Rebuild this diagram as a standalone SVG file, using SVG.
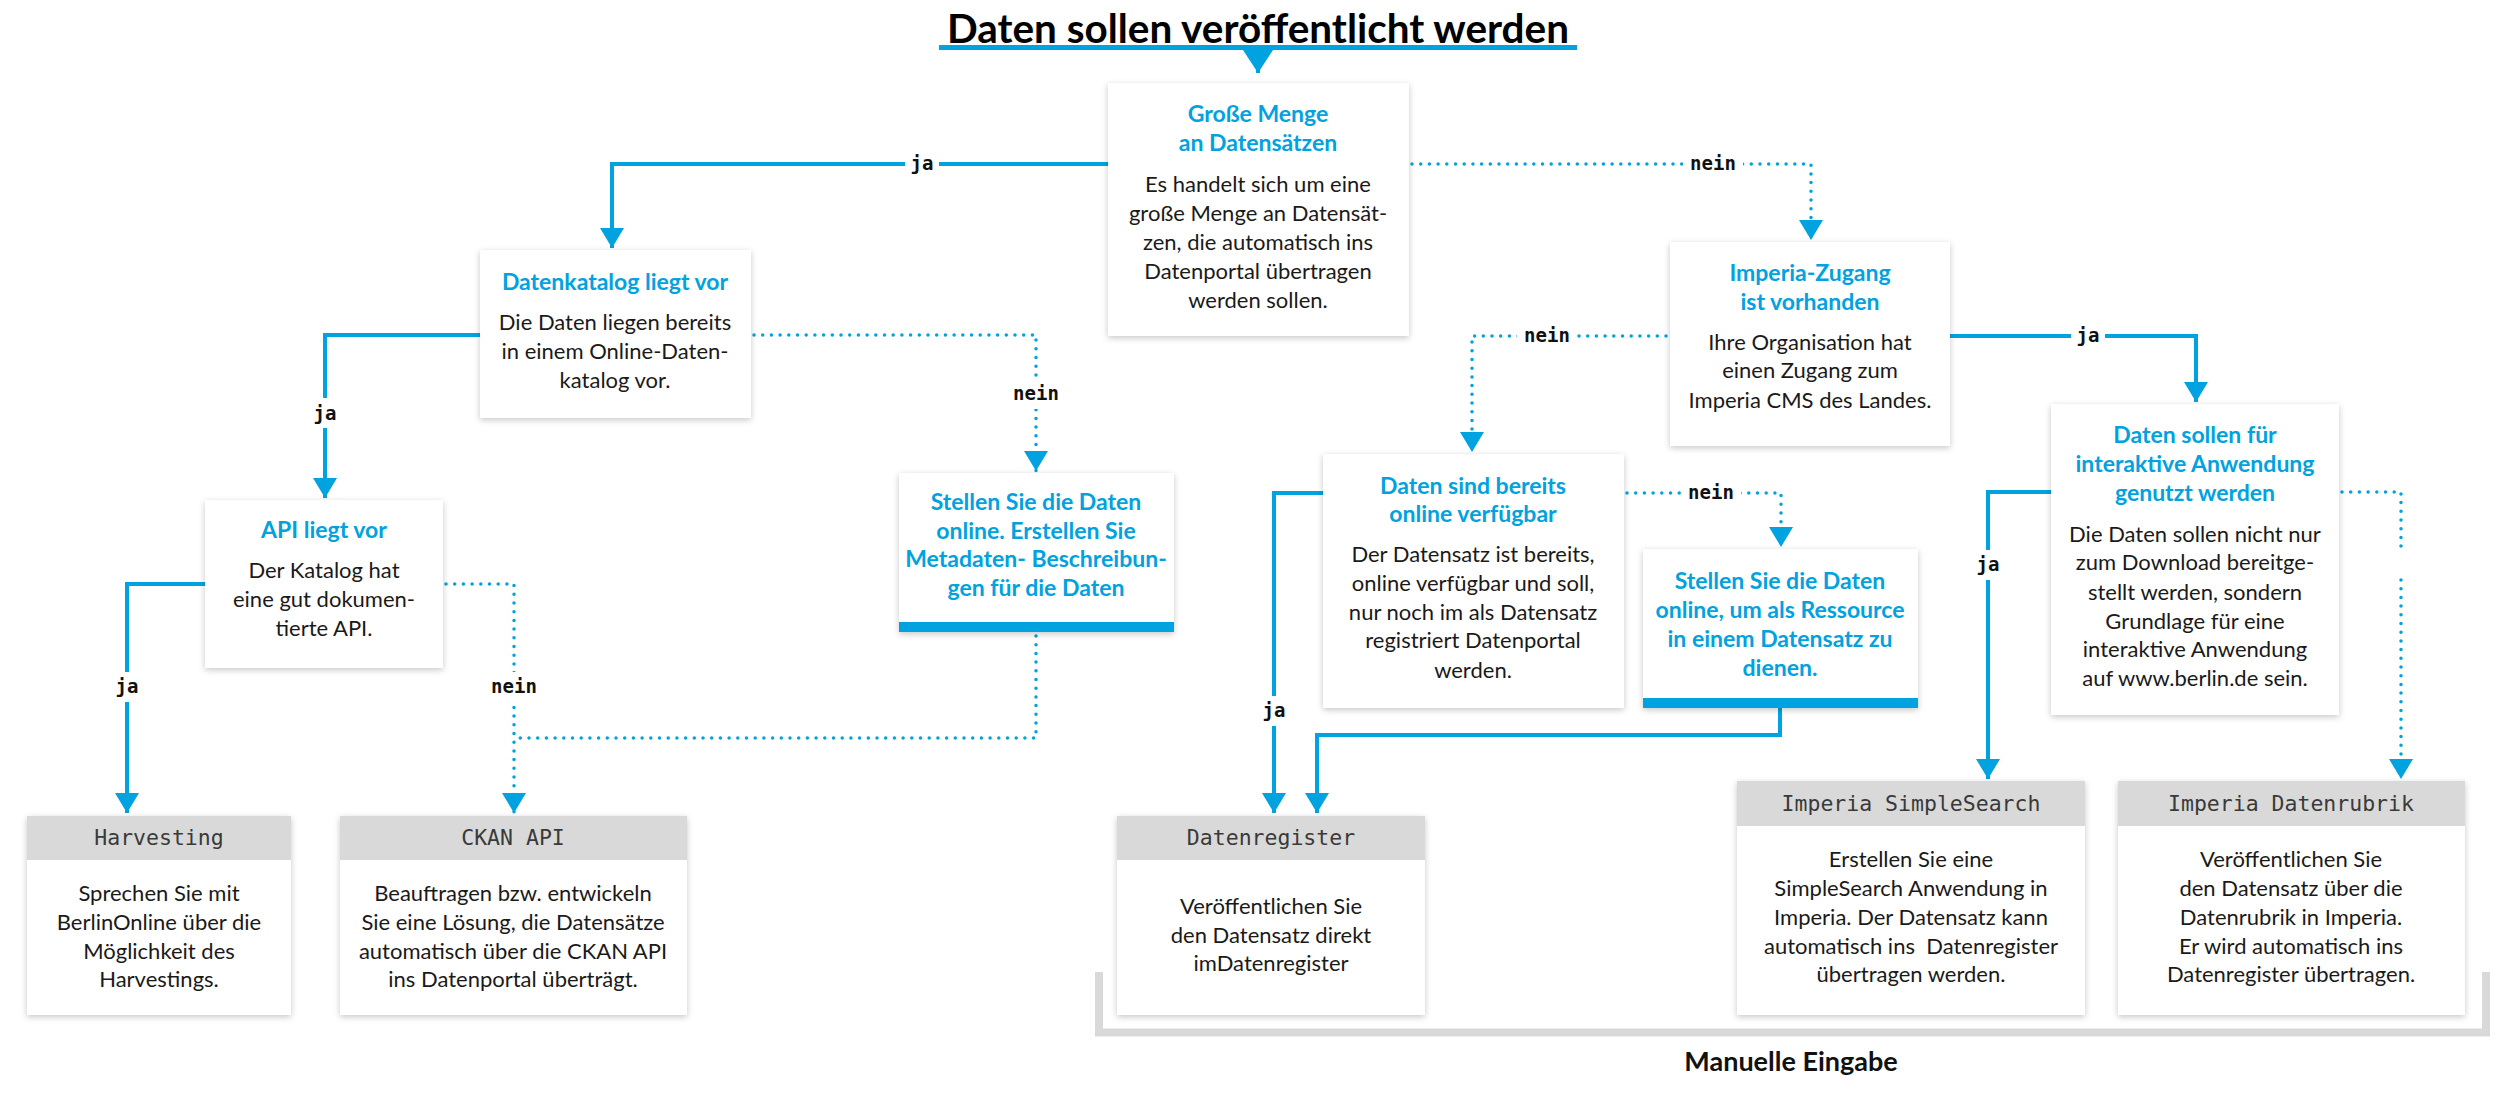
<svg xmlns="http://www.w3.org/2000/svg" width="2500" height="1114" viewBox="0 0 2500 1114">
<defs>
<filter id="sh" x="-10%" y="-10%" width="120%" height="125%">
<feDropShadow dx="0" dy="2" stdDeviation="3" flood-color="#000" flood-opacity="0.22"/>
</filter>
<marker id="ah" markerUnits="userSpaceOnUse" markerWidth="22" markerHeight="24" refX="20" refY="12" orient="auto">
<path d="M0,0 L20,12 L0,24 z" fill="#00a2df"/>
</marker>
<marker id="ahL" markerUnits="userSpaceOnUse" markerWidth="24" markerHeight="30" refX="23" refY="15" orient="auto">
<path d="M0,0 L23,15 L0,30 z" fill="#00a2df"/>
</marker>
<style>
.box{fill:#fff;filter:url(#sh)}
.hdr{fill:#d9d9d9}
.bar{fill:#00a2df}
.t{font-family:Lato,"Open Sans",sans-serif;font-weight:bold;font-size:23px;fill:#00a2df;text-anchor:middle}
.b{font-family:Lato,"Open Sans",sans-serif;font-size:22px;fill:#1a1a1a;text-anchor:middle}
.h{font-family:"DejaVu Sans Mono","Liberation Mono",monospace;font-size:21.5px;fill:#3a3a3a;text-anchor:middle}
.lbl{font-family:"DejaVu Sans Mono","Liberation Mono",monospace;font-weight:bold;font-size:19px;fill:#111;text-anchor:middle}
.sol{fill:none;stroke:#00a2df;stroke-width:4}
.dot{fill:none;stroke:#00a2df;stroke-width:3.5;stroke-linecap:round;stroke-dasharray:0 8.7}
.gap{fill:#fff}
</style>
</defs>
<rect width="2500" height="1114" fill="#fff"/>

<g id="title">
<text x="1258" y="43" font-family="Lato,'Open Sans',sans-serif" font-weight="bold" font-size="40" fill="#000" text-anchor="middle" textLength="622" lengthAdjust="spacingAndGlyphs">Daten sollen veröffentlicht werden</text>
<rect x="939" y="45" width="638" height="5" fill="#00a2df"/>
</g>

<g id="connectors">
<path class="sol" d="M1258,50 V73" marker-end="url(#ahL)"/>
<path class="sol" d="M1108,164 H612 V248" marker-end="url(#ah)"/>
<path class="dot" d="M1412,164 H1811 V240" marker-end="url(#ah)"/>
<path class="sol" d="M480,335 H325 V498" marker-end="url(#ah)"/>
<path class="dot" d="M754,335 H1036 V471" marker-end="url(#ah)"/>
<path class="sol" d="M205,584 H127 V813" marker-end="url(#ah)"/>
<path class="dot" d="M446,584 H514 V813" marker-end="url(#ah)"/>
<path class="dot" d="M1036,636 V738 H514"/>
<path class="dot" d="M1666,336 H1472 V452" marker-end="url(#ah)"/>
<path class="sol" d="M1950,336 H2196 V402" marker-end="url(#ah)"/>
<path class="dot" d="M1627,493 H1781 V547" marker-end="url(#ah)"/>
<path class="sol" d="M1323,493 H1274 V813" marker-end="url(#ah)"/>
<path class="sol" d="M1780,708 V735 H1317 V813" marker-end="url(#ah)"/>
<path class="sol" d="M2051,492 H1988 V779" marker-end="url(#ah)"/>
<path class="dot" d="M2342,492 H2401 V548"/>
<path class="dot" d="M2401,580 V779" marker-end="url(#ah)"/>
<rect class="gap" x="905" y="150" width="34" height="28"/><text class="lbl" x="922" y="170">ja</text>
<rect class="gap" x="1683" y="150" width="60" height="28"/><text class="lbl" x="1713" y="170">nein</text>
<rect class="gap" x="310" y="398" width="30" height="30"/><text class="lbl" x="325" y="420">ja</text>
<rect class="gap" x="1006" y="379" width="60" height="30"/><text class="lbl" x="1036" y="400">nein</text>
<rect class="gap" x="112" y="672" width="30" height="30"/><text class="lbl" x="127" y="693">ja</text>
<rect class="gap" x="484" y="672" width="60" height="30"/><text class="lbl" x="514" y="693">nein</text>
<rect class="gap" x="1517" y="322" width="60" height="28"/><text class="lbl" x="1547" y="342">nein</text>
<rect class="gap" x="2071" y="322" width="34" height="28"/><text class="lbl" x="2088" y="342">ja</text>
<rect class="gap" x="1681" y="479" width="60" height="28"/><text class="lbl" x="1711" y="499">nein</text>
<rect class="gap" x="1259" y="696" width="30" height="30"/><text class="lbl" x="1274" y="717">ja</text>
<rect class="gap" x="1973" y="550" width="30" height="30"/><text class="lbl" x="1988" y="571">ja</text>
</g>

<g id="n-menge">
<rect class="box" x="1108" y="83" width="301" height="253"/>
<text class="t" x="1258" y="122">Große Menge</text>
<text class="t" x="1258" y="151">an Datensätzen</text>
<text class="b" x="1258" y="192">Es handelt sich um eine</text>
<text class="b" x="1258" y="221">große Menge an Datensät-</text>
<text class="b" x="1258" y="250">zen, die automatisch ins</text>
<text class="b" x="1258" y="279">Datenportal übertragen</text>
<text class="b" x="1258" y="308">werden sollen.</text>
</g>

<g id="n-katalog">
<rect class="box" x="480" y="250" width="271" height="168"/>
<text class="t" x="615" y="290">Datenkatalog liegt vor</text>
<text class="b" x="615" y="330">Die Daten liegen bereits</text>
<text class="b" x="615" y="359">in einem Online-Daten-</text>
<text class="b" x="615" y="388">katalog vor.</text>
</g>

<g id="n-api">
<rect class="box" x="205" y="500" width="238" height="168"/>
<text class="t" x="324" y="538">API liegt vor</text>
<text class="b" x="324" y="578">Der Katalog hat</text>
<text class="b" x="324" y="607">eine gut dokumen-</text>
<text class="b" x="324" y="636">tierte API.</text>
</g>

<g id="n-stellen1">
<rect class="box" x="899" y="473" width="275" height="159"/>
<rect class="bar" x="899" y="622" width="275" height="10"/>
<text class="t" x="1036" y="510">Stellen Sie die Daten</text>
<text class="t" x="1036" y="539">online. Erstellen Sie</text>
<text class="t" x="1036" y="567">Metadaten- Beschreibun-</text>
<text class="t" x="1036" y="596">gen für die Daten</text>
</g>

<g id="n-harvesting">
<rect class="box" x="27" y="816" width="264" height="199"/>
<rect class="hdr" x="27" y="816" width="264" height="44"/>
<text class="h" x="159" y="845">Harvesting</text>
<text class="b" x="159" y="901">Sprechen Sie mit</text>
<text class="b" x="159" y="930">BerlinOnline über die</text>
<text class="b" x="159" y="959">Möglichkeit des</text>
<text class="b" x="159" y="987">Harvestings.</text>
</g>

<g id="n-ckan">
<rect class="box" x="340" y="816" width="347" height="199"/>
<rect class="hdr" x="340" y="816" width="347" height="44"/>
<text class="h" x="513" y="845">CKAN API</text>
<text class="b" x="513" y="901">Beauftragen bzw. entwickeln</text>
<text class="b" x="513" y="930">Sie eine Lösung, die Datensätze</text>
<text class="b" x="513" y="959">automatisch über die CKAN API</text>
<text class="b" x="513" y="987">ins Datenportal überträgt.</text>
</g>

<g id="n-datenregister">
<rect class="box" x="1117" y="816" width="308" height="199"/>
<rect class="hdr" x="1117" y="816" width="308" height="44"/>
<text class="h" x="1271" y="845">Datenregister</text>
<text class="b" x="1271" y="914">Veröffentlichen Sie</text>
<text class="b" x="1271" y="943">den Datensatz direkt</text>
<text class="b" x="1271" y="971">imDatenregister</text>
</g>

<g id="n-imperia">
<rect class="box" x="1670" y="242" width="280" height="204"/>
<text class="t" x="1810" y="281">Imperia-Zugang</text>
<text class="t" x="1810" y="310">ist vorhanden</text>
<text class="b" x="1810" y="350">Ihre Organisation hat</text>
<text class="b" x="1810" y="378">einen Zugang zum</text>
<text class="b" x="1810" y="408">Imperia CMS des Landes.</text>
</g>

<g id="n-bereits">
<rect class="box" x="1323" y="454" width="301" height="254"/>
<text class="t" x="1473" y="494">Daten sind bereits</text>
<text class="t" x="1473" y="522">online verfügbar</text>
<text class="b" x="1473" y="562">Der Datensatz ist bereits,</text>
<text class="b" x="1473" y="591">online verfügbar und soll,</text>
<text class="b" x="1473" y="620">nur noch im als Datensatz</text>
<text class="b" x="1473" y="648">registriert Datenportal</text>
<text class="b" x="1473" y="678">werden.</text>
</g>

<g id="n-stellen2">
<rect class="box" x="1643" y="549" width="275" height="159"/>
<rect class="bar" x="1643" y="698" width="275" height="10"/>
<text class="t" x="1780" y="589">Stellen Sie die Daten</text>
<text class="t" x="1780" y="618">online, um als Ressource</text>
<text class="t" x="1780" y="647">in einem Datensatz zu</text>
<text class="t" x="1780" y="676">dienen.</text>
</g>

<g id="n-interaktiv">
<rect class="box" x="2051" y="404" width="288" height="311"/>
<text class="t" x="2195" y="443">Daten sollen für</text>
<text class="t" x="2195" y="472">interaktive Anwendung</text>
<text class="t" x="2195" y="501">genutzt werden</text>
<text class="b" x="2195" y="542">Die Daten sollen nicht nur</text>
<text class="b" x="2195" y="570">zum Download bereitge-</text>
<text class="b" x="2195" y="600">stellt werden, sondern</text>
<text class="b" x="2195" y="629">Grundlage für eine</text>
<text class="b" x="2195" y="657">interaktive Anwendung</text>
<text class="b" x="2195" y="686">auf www.berlin.de sein.</text>
</g>

<g id="n-simplesearch">
<rect class="box" x="1737" y="781" width="348" height="234"/>
<rect class="hdr" x="1737" y="781" width="348" height="45"/>
<text class="h" x="1911" y="811">Imperia SimpleSearch</text>
<text class="b" x="1911" y="867">Erstellen Sie eine</text>
<text class="b" x="1911" y="896">SimpleSearch Anwendung in</text>
<text class="b" x="1911" y="925">Imperia. Der Datensatz kann</text>
<text class="b" x="1911" y="954" xml:space="preserve">automatisch ins  Datenregister</text>
<text class="b" x="1911" y="982">übertragen werden.</text>
</g>

<g id="n-datenrubrik">
<rect class="box" x="2118" y="781" width="347" height="234"/>
<rect class="hdr" x="2118" y="781" width="347" height="45"/>
<text class="h" x="2291" y="811">Imperia Datenrubrik</text>
<text class="b" x="2291" y="867">Veröffentlichen Sie</text>
<text class="b" x="2291" y="896">den Datensatz über die</text>
<text class="b" x="2291" y="925">Datenrubrik in Imperia.</text>
<text class="b" x="2291" y="954">Er wird automatisch ins</text>
<text class="b" x="2291" y="982">Datenregister übertragen.</text>
</g>

<g id="manuelle-eingabe">
<path d="M1099,972 V1032.5 H2486 V972" fill="none" stroke="#d9d9d9" stroke-width="8"/>
<text x="1791" y="1071" font-family="Lato,'Open Sans',sans-serif" font-weight="bold" font-size="27" fill="#111" text-anchor="middle">Manuelle Eingabe</text>
</g>
</svg>
